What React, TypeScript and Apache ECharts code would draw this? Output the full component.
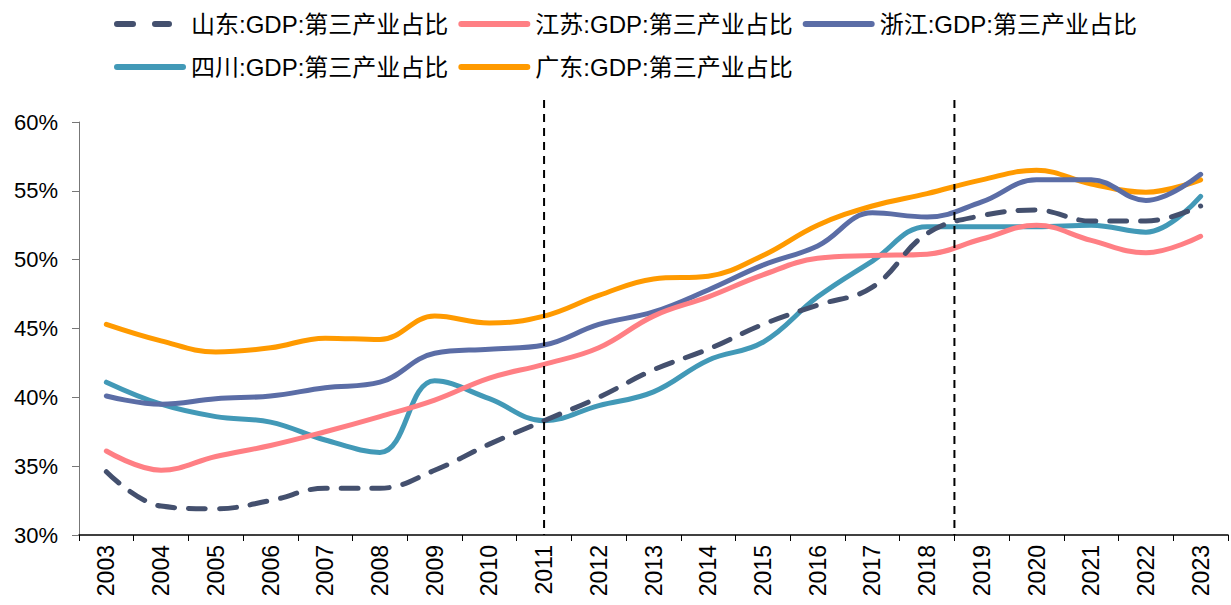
import React, { useEffect, useRef } from "react";
import * as echarts from "echarts";

const years = ["2003","2004","2005","2006","2007","2008","2009","2010","2011","2012","2013","2014","2015","2016","2017","2018","2019","2020","2021","2022","2023"];
const shandong = [34.6, 32.1, 31.9, 32.5, 33.4, 33.4, 34.7, 36.6, 38.3, 40.0, 42.0, 43.5, 45.3, 46.7, 48.0, 51.9, 53.2, 53.6, 52.8, 52.8, 53.9];
const jiangsu = [36.1, 34.7, 35.7, 36.5, 37.5, 38.6, 39.8, 41.4, 42.4, 43.6, 45.9, 47.3, 48.9, 50.1, 50.3, 50.4, 51.5, 52.5, 51.4, 50.5, 51.7];
const zhejiang = [40.1, 39.5, 39.9, 40.1, 40.7, 41.1, 43.2, 43.5, 43.8, 45.3, 46.2, 47.8, 49.6, 51.0, 53.4, 53.1, 54.2, 55.8, 55.8, 54.3, 56.2];
const sichuan = [41.1, 39.5, 38.6, 38.2, 36.9, 36.0, 41.2, 39.9, 38.3, 39.4, 40.4, 42.7, 44.0, 47.3, 49.9, 52.4, 52.4, 52.4, 52.5, 52.0, 54.6];
const guangdong = [45.3, 44.1, 43.3, 43.6, 44.3, 44.2, 45.9, 45.4, 45.9, 47.4, 48.6, 48.8, 50.3, 52.5, 53.9, 54.8, 55.8, 56.5, 55.5, 54.9, 55.8];
const seriesNames = ["山东:GDP:第三产业占比", "江苏:GDP:第三产业占比", "浙江:GDP:第三产业占比", "四川:GDP:第三产业占比", "广东:GDP:第三产业占比"];
const colors = ["#44506E", "#FF7F84", "#5B6DA6", "#4299B7", "#FF9A00"];

const dashedIcon = "path://M3,0h16a3,3 0 0 1 0,6h-16a3,3 0 0 1 0,-6z M41,0h14a3,3 0 0 1 0,6h-14a3,3 0 0 1 0,-6z M71.9,2.95h0.1v0.1h-0.1z";
const solidIcon = "path://M3,0h66a3,3 0 0 1 0,6h-66a3,3 0 0 1 0,-6z";

export default function App() {
  const ref = useRef<HTMLDivElement>(null);
  useEffect(() => {
    const chart = echarts.init(ref.current!, null, { renderer: "svg" });
    const data = [shandong, jiangsu, zhejiang, sichuan, guangdong];
    const font = "Arial, 'Liberation Sans', 'Noto Sans CJK SC', sans-serif";
    const legendText = { fontSize: 24, color: "#000", fontFamily: font, lineHeight: 32 };
    const legendItem = (name: string) => ({ name, icon: name === seriesNames[0] ? dashedIcon : solidIcon });
    chart.setOption({
      animation: false,
      color: colors,
      legend: [
        {
          data: seriesNames.slice(0, 3).map(legendItem),
          left: 109, top: 3, itemWidth: 72, itemHeight: 6, itemGap: 10,
          textStyle: legendText,
        },
        {
          data: seriesNames.slice(3).map(legendItem),
          left: 109, top: 46, itemWidth: 72, itemHeight: 6, itemGap: 10,
          textStyle: legendText,
        },
      ],
      grid: { left: 79, right: 3, top: 122, bottom: 70, containLabel: false },
      xAxis: {
        type: "category",
        data: years,
        boundaryGap: true,
        axisLine: { lineStyle: { color: "#000", width: 1.5 } },
        axisTick: { show: true, length: 6, lineStyle: { color: "#000" } },
        axisLabel: { rotate: 90, fontSize: 23, color: "#000", fontFamily: font, margin: 10, interval: 0 },
      },
      yAxis: {
        type: "value",
        min: 30, max: 60, interval: 5,
        axisLine: { show: true, lineStyle: { color: "#777", width: 1 } },
        axisTick: { show: true, inside: false, length: 7, lineStyle: { color: "#777" } },
        splitLine: { show: false },
        axisLabel: { fontSize: 22, color: "#000", fontFamily: font, margin: 21, formatter: (v: number) => v + "%" },
      },
      series: seriesNames.map((name, i) => ({
        name,
        type: "line",
        data: data[i],
        smooth: 0.4,
        showSymbol: false,
        symbol: "none",
        z: i === 0 ? 10 : 5 - i + 2,
        lineStyle: i === 0
          ? { width: 5, color: colors[i], type: [17, 14], cap: "round" }
          : { width: 5, color: colors[i], cap: "round" },
      })),
    });
    const x2011 = chart.convertToPixel({ xAxisIndex: 0 }, "2011") as number;
    const x2018 = chart.convertToPixel({ xAxisIndex: 0 }, "2018") as number;
    const x2019 = chart.convertToPixel({ xAxisIndex: 0 }, "2019") as number;
    const yBottom = chart.convertToPixel({ yAxisIndex: 0 }, 30) as number;
    const yTop = 100;
    const xb = (x2018 + x2019) / 2;
    const lineStyle = { stroke: "#000", lineWidth: 2, lineDash: [8, 6] };
    chart.setOption({
      graphic: [
        { type: "line", shape: { x1: x2011, y1: yTop, x2: x2011, y2: yBottom }, style: lineStyle, z: 100 },
        { type: "line", shape: { x1: xb, y1: yTop, x2: xb, y2: yBottom }, style: lineStyle, z: 100 },
      ],
    });
    return () => chart.dispose();
  }, []);
  return <div ref={ref} style={{ width: 1231, height: 605, position: "absolute", left: 0, top: 0 }} />;
}
